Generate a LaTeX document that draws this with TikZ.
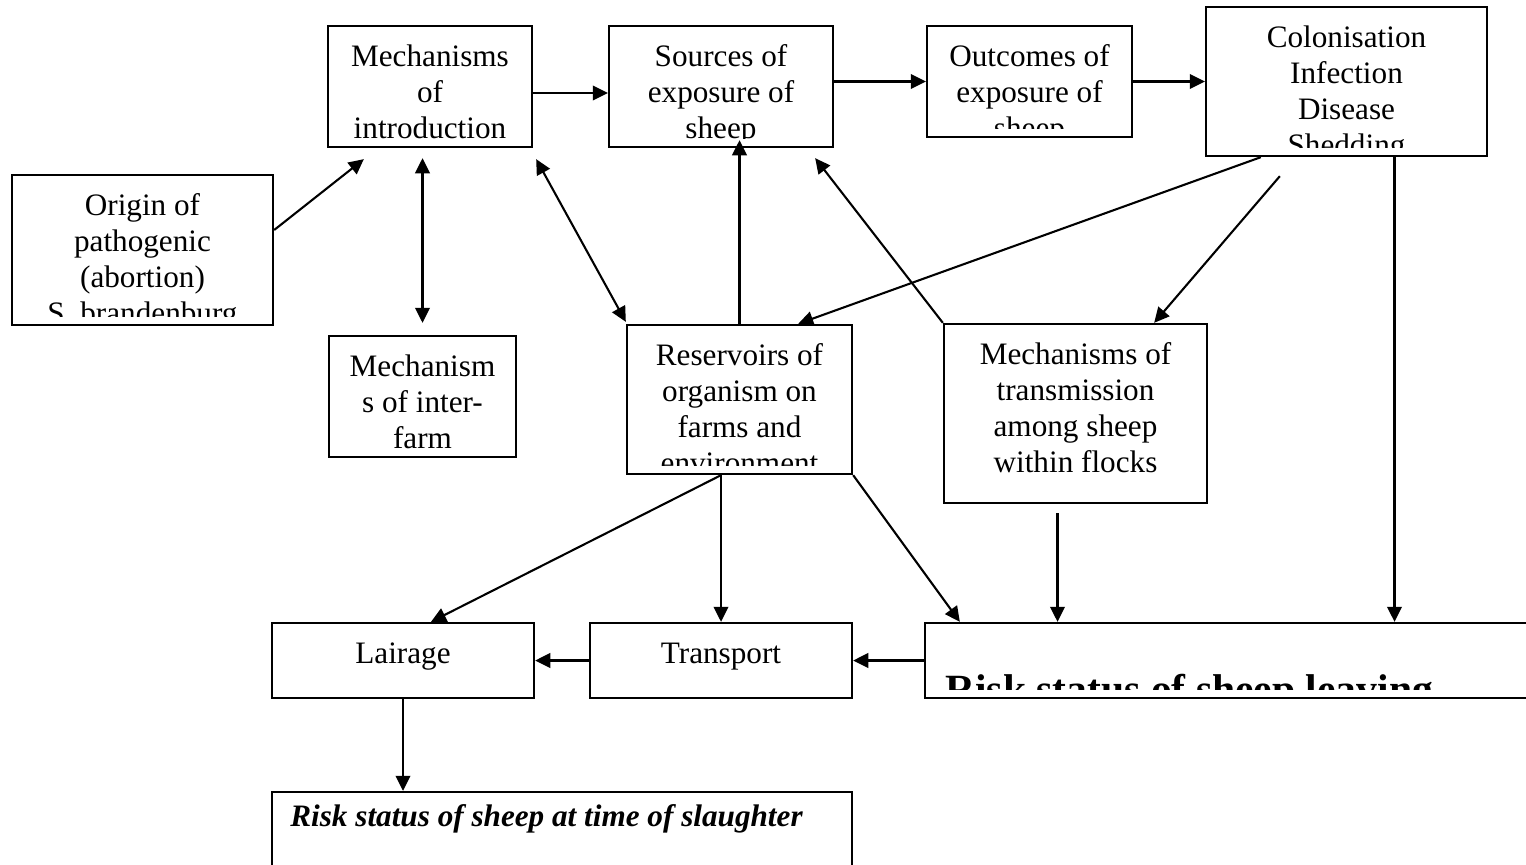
\documentclass[tikz,border=0pt]{standalone}
\usepackage{fontspec}
\setmainfont{Liberation Serif}
\usetikzlibrary{arrows.meta,calc,fit}

\tikzset{
  box/.style={draw, line width=0.9pt, inner sep=0pt},
  arr/.style={line width=0.8pt, -{Triangle[length=5.8pt,width=5.6pt]}},
  both/.style={line width=0.8pt, {Triangle[length=5.8pt,width=5.6pt]}-{Triangle[length=5.8pt,width=5.6pt]}},
  lines/.style={inner sep=0pt, anchor=north, align=center, font=\fontsize{12}{13.8}\selectfont},
}

% box text, cut off at the inner bottom margin
\newcommand{\boxtext}[2]{%
  \begin{scope}
    \clip ($(#1.south west)+(0,-9.4)$) rectangle (#1.north east);
    \node (#1-txt) [lines] at ($(#1.north)+(0,16)$) {\strut #2};
  \end{scope}}

\begin{document}
\begin{tikzpicture}[x=0.3846pt, y=-0.3846pt]
	\useasboundingbox (0,0) rectangle (1526,864);
	\clip (0,0) rectangle (1526,864);
	% boxes
	\node (intro) [box, fit={(328,26) (532,147)}] {};
	\node (sources) [box, fit={(609,26) (833,147)}] {};
	\node (outcomes) [box, fit={(927,26) (1132,137)}] {};
	\node (col) [box, fit={(1206,7) (1487,156)}] {};
	\node (origin) [box, fit={(12,175) (273,325)}] {};
	\node (interfarm) [box, fit={(329,336) (516,457)}] {};
	\node (reserv) [box, fit={(627,325) (852,474)}] {};
	\node (transmis) [box, fit={(944,324) (1207,503)}] {};
	\node (lairage) [box, fit={(272,623) (534,698)}] {};
	\node (transport) [box, fit={(590,623) (852,698)}] {};
	\node (leaving) [box, fit={(925,623) (1545,698)}] {};
	\node (slaughter) [box, fit={(272,792) (852,880)}] {};
	% texts
	\boxtext{intro}{Mechanisms\\of\\introduction}
	\boxtext{sources}{Sources of\\exposure of\\sheep}
	\boxtext{outcomes}{Outcomes of\\exposure of\\sheep}
	\boxtext{col}{Colonisation\\Infection\\Disease\\Shedding}
	\boxtext{origin}{Origin of\\pathogenic\\(abortion)\\S. brandenburg}
	\boxtext{interfarm}{Mechanism\\s of inter-\\farm}
	\boxtext{reserv}{Reservoirs of\\organism on\\farms and\\environment}
	\boxtext{transmis}{Mechanisms of\\transmission\\among sheep\\within flocks}
	\boxtext{lairage}{Lairage}
	\boxtext{transport}{Transport}
	\begin{scope}
		\clip ($(leaving.south west)+(0,-9.4)$) rectangle (leaving.north east);
		\node (leaving-txt) [inner sep=0pt, anchor=base west] at ($(leaving.north west)+(21,82)$)
			{\fontsize{16}{18.4}\selectfont\bfseries Risk status of sheep leaving};
	\end{scope}
	\node (slaughter-txt) [inner sep=0pt, anchor=base west] at ($(slaughter.north west)+(19,36)$)
		{\fontsize{12}{13.8}\selectfont\bfseries\itshape Risk status of sheep at time of slaughter};
	% connectors
	\draw[arr] ([yshift=-2.5pt]intro.east) -- ([yshift=-2.5pt]intro.east -| sources.west);
	\draw[arr] (sources.east |- outcomes.west) -- (outcomes.west);
	\draw[arr] (outcomes.east) -- (outcomes.east -| col.west);
	\draw[arr] ($(origin.east)+(0,-20)$) -- ($(intro.south west)+(37,11)$);
	\draw[both] ($(interfarm.north)+(0,-12)$) -- ($(interfarm.north |- intro.south)+(0,10)$);
	\draw[both] ($(intro.south east)+(3,11)$) -- ($(reserv.north west)+(0,-2)$);
	\draw[arr] (reserv.north) -- ($(reserv.north |- sources.south)+(0,-8)$);
	\draw[arr] (transmis.north west) -- ($(sources.south east)+(-19,10)$);
	\draw[arr] ($(col.south west)+(56,0)$) -- ($(reserv.north east)+(-55,0)$);
	\draw[arr] ($(col.south west)+(75,19)$) -- ($(transmis.north east)+(-54,0)$);
	\coordinate (shed) at ($(col.south)+(48,0)$);
	\draw[arr] (shed) -- (shed |- leaving.north);
	\coordinate (flock) at ($(transmis.south)+(-18,9)$);
	\draw[arr] (flock) -- (flock |- leaving.north);
	\draw[arr] (reserv.south east) -- ($(leaving.north west)+(36,0)$);
	\draw[arr] (reserv.south -| transport.north) -- (transport.north);
	\draw[arr] (reserv.south -| transport.north) -- ($(lairage.north)+(28,0)$);
	\draw[arr] (leaving.west) -- (transport.east);
	\draw[arr] (transport.west) -- (lairage.east);
	\draw[arr] (lairage.south) -- (lairage.south |- slaughter.north);
\end{tikzpicture}
\end{document}
